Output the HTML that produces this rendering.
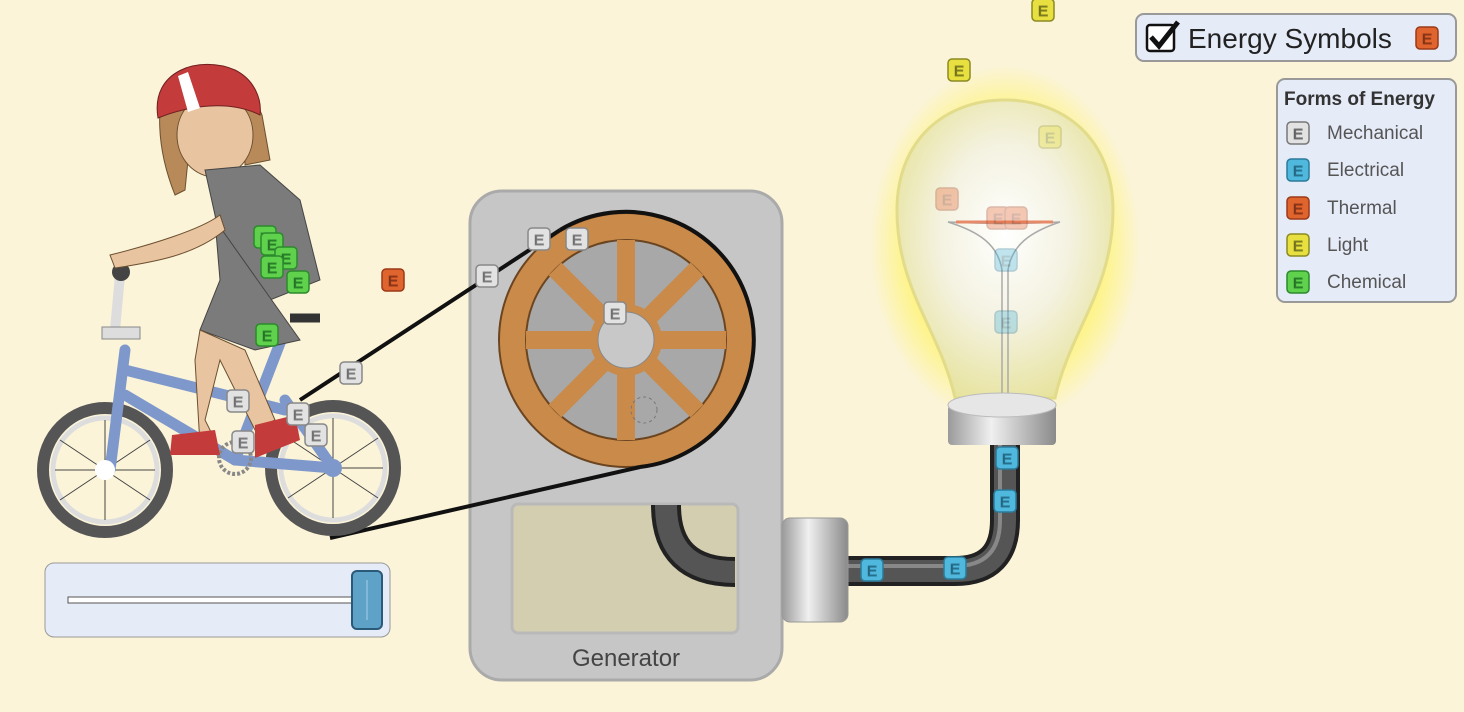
<!DOCTYPE html>
<html><head><meta charset="utf-8"><style>
html,body{margin:0;padding:0;background:#fbf4d8;}
svg{display:block}
text{font-family:"Liberation Sans",Arial,sans-serif}
</style></head><body>
<svg width="1464" height="712" viewBox="0 0 1464 712" xmlns="http://www.w3.org/2000/svg" font-family="Liberation Sans, Arial, sans-serif">
<defs>
<radialGradient id="glow" cx="0.5" cy="0.5" r="0.5">
<stop offset="0.65" stop-color="#fff36a" stop-opacity="0.95"/><stop offset="1" stop-color="#fff36a" stop-opacity="0"/></radialGradient>
<radialGradient id="glass" cx="0.5" cy="0.45" r="0.6">
<stop offset="0" stop-color="#ffffff"/><stop offset="0.5" stop-color="#f4f2e0"/><stop offset="1" stop-color="#e6e29a"/></radialGradient>
<linearGradient id="metal" x1="0" x2="1"><stop offset="0" stop-color="#9a9a9a"/><stop offset="0.4" stop-color="#f0f0f0"/><stop offset="1" stop-color="#8a8a8a"/></linearGradient>
<g id="E"><rect x="-11" y="-11" width="22" height="22" rx="4" stroke-width="1.5"/><text x="0" y="6" text-anchor="middle" font-size="15" fill="#222" font-family="Liberation Sans, Arial, sans-serif">E</text></g>
</defs>
<rect width="1464" height="712" fill="#fbf4d8"/>

<ellipse cx="1005" cy="245" rx="135" ry="180" fill="url(#glow)"/>
<path d="M955,398 C940,330 897,290 897,210 C897,140 945,100 1005,100 C1065,100 1113,140 1113,210 C1113,290 1070,330 1055,398 Z" fill="url(#glass)" stroke="#e2dc8a" stroke-width="3"/>
<path d="M948,222 C990,224 1020,224 1060,222 C1030,232 1012,245 1008,270 L1008,400 M948,222 C980,232 998,245 1002,270 L1002,400" fill="none" stroke="#aaa" stroke-width="1.5"/>
<line x1="956" y1="222" x2="1053" y2="222" stroke="#e68a6a" stroke-width="3"/>
<g opacity="0.35">
<use href="#E" x="1050" y="137" fill="#e8e040" stroke="#9a9a30"/>
<use href="#E" x="947" y="199" fill="#e66a3a" stroke="#a04020"/>
<use href="#E" x="998" y="218" fill="#e66a3a" stroke="#a04020"/>
<use href="#E" x="1016" y="218" fill="#e66a3a" stroke="#a04020"/>
<use href="#E" x="1006" y="260" fill="#4fb8dc" stroke="#2a7a9a"/>
<use href="#E" x="1006" y="322" fill="#4fb8dc" stroke="#2a7a9a"/>
</g>
<rect x="948" y="405" width="108" height="40" fill="url(#metal)" rx="4"/>
<ellipse cx="1002" cy="405" rx="54" ry="12" fill="#e6e6e6" stroke="#bbb"/>

<path d="M848,571 L955,571 Q1005,571 1005,520 L1005,445" fill="none" stroke="#222" stroke-width="30"/>
<path d="M848,571 L955,571 Q1005,571 1005,520 L1005,445" fill="none" stroke="#555" stroke-width="22"/>
<path d="M848,566 L955,566 Q1000,566 1000,520 L1000,445" fill="none" stroke="#888" stroke-width="4"/>

<rect x="470" y="191" width="312" height="489" rx="32" fill="#c6c6c6" stroke="#aaa" stroke-width="3"/>
<rect x="512" y="504" width="226" height="129" rx="6" fill="#d4ceb0" stroke="#b9b9b9" stroke-width="3"/>
<path d="M666,505 Q666,572 735,572" fill="none" stroke="#222" stroke-width="30"/>
<path d="M666,505 Q666,572 735,572" fill="none" stroke="#555" stroke-width="22"/>
<text x="626" y="666" text-anchor="middle" font-size="24" fill="#444">Generator</text>
<rect x="782" y="518" width="66" height="104" rx="8" fill="url(#metal)" stroke="#999"/>

<circle cx="626" cy="340" r="127" fill="#c98a4a" stroke="#6b4420" stroke-width="2"/>
<circle cx="626" cy="340" r="100" fill="#a8a8a8" stroke="#6b4420" stroke-width="2"/>
<g stroke="#c98a4a" stroke-width="18">
<line x1="626" y1="240" x2="626" y2="440"/><line x1="526" y1="340" x2="726" y2="340"/>
<line x1="555" y1="269" x2="697" y2="411"/><line x1="697" y1="269" x2="555" y2="411"/>
</g>
<circle cx="626" cy="340" r="36" fill="#c98a4a"/>
<circle cx="626" cy="340" r="28" fill="#c8c8c8" stroke="#888"/>
<circle cx="644" cy="410" r="13" fill="none" stroke="#777" stroke-dasharray="3 3"/>
<!-- belt -->
<path d="M560,230 A128,128 0 1 1 640,467" fill="none" stroke="#111" stroke-width="4"/>
<path d="M300,400 L560,230 M640,467 L330,538" fill="none" stroke="#111" stroke-width="4"/>

<g fill="none">
<circle cx="105" cy="470" r="62" stroke="#555" stroke-width="12"/>
<circle cx="105" cy="470" r="52" stroke="#ddd" stroke-width="5"/>
<circle cx="333" cy="468" r="62" stroke="#555" stroke-width="12"/>
<circle cx="333" cy="468" r="52" stroke="#ddd" stroke-width="5"/>
<g stroke="#444" stroke-width="1"><path d="M60,440 L150,500 M60,500 L150,440 M105,420 L105,520 M55,470 L155,470 M288,438 L378,498 M288,498 L378,438 M333,418 L333,518 M283,468 L383,468"/></g>
<g stroke="#7f98cc" stroke-width="11" stroke-linecap="round">
<line x1="110" y1="470" x2="125" y2="350"/><line x1="125" y1="370" x2="285" y2="410"/>
<line x1="125" y1="395" x2="235" y2="460"/><line x1="235" y1="460" x2="333" y2="468"/>
<line x1="235" y1="460" x2="285" y2="330"/><line x1="285" y1="400" x2="333" y2="468"/>
</g>
<line x1="120" y1="275" x2="115" y2="330" stroke="#ddd" stroke-width="10"/>
<rect x="102" y="327" width="38" height="12" fill="#ddd" stroke="#888"/>
<circle cx="121" cy="272" r="9" fill="#444"/>
<line x1="290" y1="318" x2="320" y2="318" stroke="#333" stroke-width="9"/>
<circle cx="235" cy="458" r="16" stroke="#888" stroke-width="4" stroke-dasharray="3 2"/>
<circle cx="333" cy="468" r="9" fill="#7f98cc"/><circle cx="105" cy="470" r="10" fill="#fff"/>
</g>
<path d="M160,110 C160,70 240,60 262,115 L270,160 L245,165 L245,130 L190,140 L185,190 L175,195 C165,170 158,140 160,110Z" fill="#b88a5a" stroke="#6b4f30"/>
<ellipse cx="215" cy="135" rx="38" ry="42" fill="#e9c4a0" stroke="#6b4f30"/>
<path d="M158,118 C150,70 200,55 235,70 C255,80 262,100 260,115 C230,100 190,105 158,118Z" fill="#c33b3b" stroke="#702020"/>
<path d="M178,76 L188,112 L200,108 L188,72Z" fill="#fff"/>
<path d="M205,170 L260,165 L300,200 L320,280 L270,300 L225,270 L215,215Z" fill="#7b7b7b" stroke="#444"/>
<path d="M215,220 L300,340 L255,350 L200,330 L220,280Z" fill="#7b7b7b" stroke="#444"/>
<path d="M110,255 C150,245 200,230 220,215 L225,230 C195,255 155,262 115,268Z" fill="#e9c4a0" stroke="#6b4f30"/>
<path d="M200,330 L245,350 L275,420 L255,430 L220,360 L205,420 L215,440 L200,445 L195,360Z" fill="#e9c4a0" stroke="#6b4f30"/>
<path d="M172,435 L215,430 L220,455 L170,455Z" fill="#c33b3b"/>
<path d="M255,425 L295,415 L300,440 L255,458Z" fill="#c33b3b"/>

<g fill="#5fd14d" stroke="#2c8a2c">
<use href="#E" x="265" y="237"/><use href="#E" x="272" y="244"/><use href="#E" x="286" y="258"/><use href="#E" x="272" y="267"/><use href="#E" x="298" y="282"/><use href="#E" x="267" y="335"/>
</g>
<use href="#E" x="393" y="280" fill="#e0642e" stroke="#9a3a18"/>
<g fill="#e2e2e2" stroke="#888">
<use href="#E" x="487" y="276"/><use href="#E" x="539" y="239"/><use href="#E" x="577" y="239"/><use href="#E" x="615" y="313"/><use href="#E" x="351" y="373"/><use href="#E" x="238" y="401"/><use href="#E" x="298" y="414"/><use href="#E" x="316" y="435"/><use href="#E" x="243" y="442"/>
</g>
<g fill="#4fb8dc" stroke="#2a7a9a">
<use href="#E" x="1007" y="458"/><use href="#E" x="1005" y="501"/><use href="#E" x="872" y="570"/><use href="#E" x="955" y="568"/>
</g>
<g fill="#e8e040" stroke="#8a8a20"><use href="#E" x="959" y="70"/><use href="#E" x="1043" y="10"/></g>

<rect x="45" y="563" width="345" height="74" rx="9" fill="#e6ebf8" stroke="#999"/>
<rect x="68" y="597" width="292" height="6" fill="#fff" stroke="#555"/>
<rect x="352" y="571" width="30" height="58" rx="5" fill="#5fa2c8" stroke="#2a5a7a" stroke-width="2"/>
<line x1="367" y1="580" x2="367" y2="620" stroke="#a0d0ea"/>

<rect x="1136" y="14" width="320" height="47" rx="8" fill="#e6ebf8" stroke="#999" stroke-width="2"/>
<rect x="1147" y="25" width="27" height="26" rx="3" fill="#fff" stroke="#111" stroke-width="2.5"/>
<path d="M1151,37 L1159,46 L1178,22" fill="none" stroke="#111" stroke-width="5"/>
<text x="1188" y="48" font-size="28" fill="#222">Energy Symbols</text>
<use href="#E" x="1427" y="38" fill="#e0642e" stroke="#9a3a18"/>

<rect x="1277" y="79" width="179" height="223" rx="8" fill="#e6ebf8" stroke="#999" stroke-width="2"/>
<text x="1284" y="105" font-size="19" font-weight="bold" fill="#333">Forms of Energy</text>
<use href="#E" x="1298" y="133" fill="#e2e2e2" stroke="#777"/><text x="1327" y="139" font-size="19" fill="#555">Mechanical</text>
<use href="#E" x="1298" y="170" fill="#4fb8dc" stroke="#2a7a9a"/><text x="1327" y="176" font-size="19" fill="#555">Electrical</text>
<use href="#E" x="1298" y="208" fill="#e0642e" stroke="#9a3a18"/><text x="1327" y="214" font-size="19" fill="#555">Thermal</text>
<use href="#E" x="1298" y="245" fill="#e8e040" stroke="#8a8a20"/><text x="1327" y="251" font-size="19" fill="#555">Light</text>
<use href="#E" x="1298" y="282" fill="#5fd14d" stroke="#2c8a2c"/><text x="1327" y="288" font-size="19" fill="#555">Chemical</text>
</svg>
</body></html>
